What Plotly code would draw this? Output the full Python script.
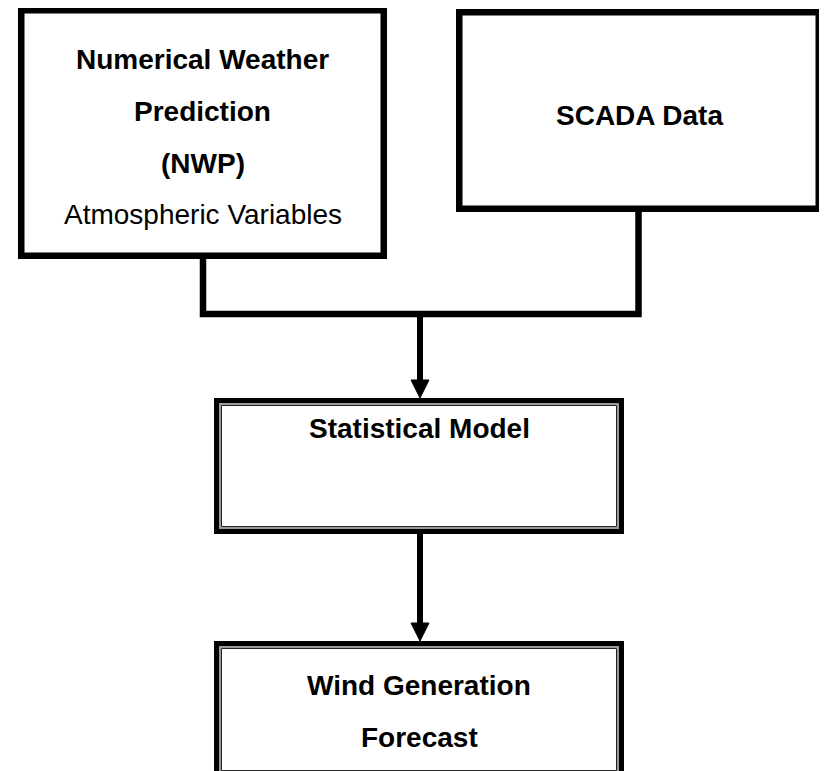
import plotly.graph_objects as go

# text of the flowchart nodes
nwp_lines = ["Numerical Weather", "Prediction", "(NWP)", "Atmospheric Variables"]
nwp_bold = [True, True, True, False]
scada_lines = ["SCADA Data"]
model_lines = ["Statistical Model"]
forecast_lines = ["Wind Generation", "Forecast"]

W, H = 827, 771
PAD = 8  # the page body margin pushes the figure 8px right and down
FONT = "Liberation Sans, Arial, Helvetica, sans-serif"
FONT_SIZE = 28

# layout of the boxes, in page pixels (outer edges)
boxes = [
    dict(lines=nwp_lines, bold=nwp_bold, x0=18, y0=7, x1=387, y1=259,
         double=False, text_y=[59, 111, 163, 214]),
    dict(lines=scada_lines, bold=[True], x0=456, y0=9, x1=822, y1=212,
         double=False, text_y=[115]),
    dict(lines=model_lines, bold=[True], x0=214, y0=398, x1=624, y1=534,
         double=True, text_y=[428]),
    dict(lines=forecast_lines, bold=[True, True], x0=214, y0=641, x1=624, y1=778,
         double=True, text_y=[685, 737]),
]

fig = go.Figure()

for b in boxes:
    if b["double"]:
        # thick black outer frame, grey band, thin dark inner line
        fig.add_shape(type="rect", x0=b["x0"] + 2.5, y0=b["y0"] + 2.5,
                      x1=b["x1"] - 2.5, y1=b["y1"] - 2.5,
                      line=dict(color="black", width=5))
        fig.add_shape(type="rect", x0=b["x0"] + 6, y0=b["y0"] + 6,
                      x1=b["x1"] - 6, y1=b["y1"] - 6,
                      line=dict(color="#9a9a9a", width=2))
        fig.add_shape(type="rect", x0=b["x0"] + 7.5, y0=b["y0"] + 7.5,
                      x1=b["x1"] - 7.5, y1=b["y1"] - 7.5,
                      line=dict(color="#222222", width=1))
    else:
        fig.add_shape(type="rect", x0=b["x0"] + 3.25, y0=b["y0"] + 3.25,
                      x1=b["x1"] - 3.25, y1=b["y1"] - 3.25,
                      line=dict(color="black", width=6.5))
    cx = (b["x0"] + b["x1"]) / 2
    for txt, bold, ty in zip(b["lines"], b["bold"], b["text_y"]):
        fig.add_annotation(
            x=cx, y=ty, text=f"<b>{txt}</b>" if bold else txt,
            showarrow=False, xanchor="center", yanchor="middle",
            font=dict(family=FONT, size=FONT_SIZE, color="black"),
        )

# connector joining the two input boxes
nwp, scada, model, fcst = boxes
nwp_x = 203
scada_x = 638.5
join_y = 314
fig.add_shape(
    type="path",
    path=f"M {nwp_x},{nwp['y1'] - 3} L {nwp_x},{join_y} L {scada_x},{join_y} "
         f"L {scada_x},{scada['y1'] - 3}",
    line=dict(color="black", width=6.5),
)

# downward arrows
arrow_x = 420
head_len, head_half = 18, 9
for y_start, tip in [(join_y + 3, model["y0"]), (model["y1"] - 2, fcst["y0"])]:
    fig.add_shape(type="line", x0=arrow_x, x1=arrow_x, y0=y_start, y1=tip - head_len + 1,
                  line=dict(color="black", width=6))
    fig.add_shape(
        type="path",
        path=f"M {arrow_x - head_half},{tip - head_len} L {arrow_x + head_half},{tip - head_len} "
             f"L {arrow_x},{tip} Z",
        fillcolor="black", line=dict(color="black", width=1),
    )

fig.update_layout(
    width=W - PAD, height=H - PAD,
    margin=dict(l=0, r=0, t=0, b=0),
    plot_bgcolor="white", paper_bgcolor="white",
    showlegend=False,
)
fig.update_xaxes(range=[PAD, W], visible=False, fixedrange=True)
fig.update_yaxes(range=[H, PAD], visible=False, fixedrange=True)

fig.write_html("out.html")
